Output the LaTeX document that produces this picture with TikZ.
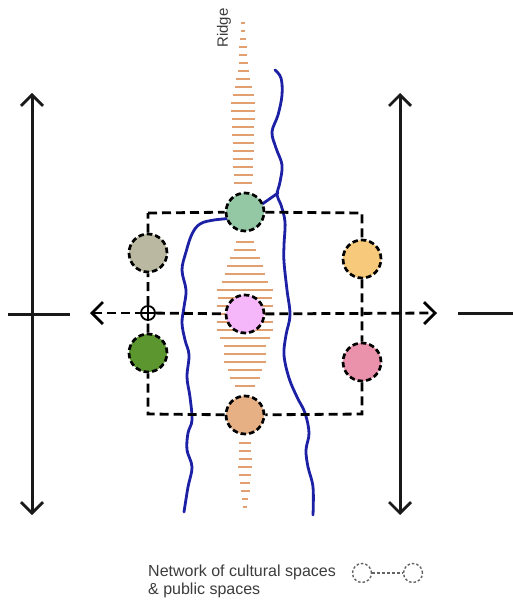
\documentclass[tikz,border=0pt]{standalone}
\usepackage{fontspec}
\setmainfont{Liberation Sans}
\usetikzlibrary{arrows.meta}
\definecolor{riverblue}{RGB}{28,32,165}
\definecolor{ridgeorange}{RGB}{226,160,112}
\definecolor{sageg}{RGB}{148,200,165}
\definecolor{stone}{RGB}{186,184,160}
\definecolor{lilac}{RGB}{245,182,250}
\definecolor{leaf}{RGB}{92,150,46}
\definecolor{sand}{RGB}{246,202,122}
\definecolor{rose}{RGB}{234,146,172}
\definecolor{peach}{RGB}{230,176,132}
\definecolor{legendgray}{RGB}{60,60,60}
\begin{document}
\begin{tikzpicture}[x=1pt,y=-1pt,
  axis/.style={line width=3pt, draw=black!90},
  barbtip/.tip={Straight Barb[length=11pt,width=22pt,line width=2.8pt]},
  netline/.style={line width=2.8pt, dash pattern=on 9pt off 5pt},
  space/.style={circle, minimum size=38pt, inner sep=0pt, draw=black,
    line width=2.7pt, dash pattern=on 5.5pt off 3pt},
  ridgeline/.style={draw=ridgeorange, line width=1.8pt},
  river/.style={draw=riverblue, line width=2.8pt, line cap=round, line join=round},
  legendtext/.style={font=\fontsize{16}{17.5}\selectfont, text=legendgray},
]
\useasboundingbox (0,0) rectangle (513,604);

% ridge hatching, upper stretch
\foreach \y/\w in {23/1.8,31/2.2,39/3,47/3.6,55/4,63/4.5,71/5.5,79/7,87/8.5,95/10.5,
  103/12,111/12,119/11.5,127/11,135/11,143/10.5,151/10.5,159/10,167/10,175/9.5,183/9}
  \draw[ridgeline] (243-\w,\y) -- (243+\w,\y);
% ridge hatching, middle stretch
\foreach \y/\w in {242/9,250/11,258/15,266/18,274/20,282/23,290/28,298/27,306/28,314/28,
  322/28,330/28,338/25,346/21,354/21,362/21,370/17,378/15,386/10}
  \draw[ridgeline] (245-\w,\y) -- (245+\w,\y);
% ridge hatching, lower stretch
\foreach \y/\w in {443/6,451/6,459/6.5,467/7,475/6,483/5,491/4.5,499/3,507/2}
  \draw[ridgeline] (245-\w,\y) -- (245+\w,\y);

\node[rotate=90, font=\fontsize{15}{15}\selectfont, text=legendgray] (ridgelabel) at (224,28) {Ridge};

% rivers
\draw[river] plot[smooth, tension=0.6] coordinates {
  (236,218) (214,220) (200,224) (192,234) (186,252) (182,270) (186,290) (184,307)
  (182,323) (185,340) (189,355) (187,377) (190,397) (192,420) (188,433) (187,450)
  (192,467) (188,487) (184,512)};
\draw[river] plot[smooth, tension=0.6] coordinates {
  (275,70) (281,78) (282,95) (278,115) (272,132) (276,148) (282,165) (280,182)
  (277,195) (281,205) (285,222) (284,245) (284,262) (287,290) (290,315) (286,335)
  (284,355) (289,378) (297,397) (305,413) (309,433) (306,450) (308,467) (313,487) (313,515)};
\draw[river] plot[smooth, tension=0.6] coordinates {(278,193) (268,200) (258,207)};

% outer solid axes
\coordinate (lTop) at (32,93);
\coordinate (lBot) at (32,515);
\coordinate (rTop) at (400,93);
\coordinate (rBot) at (400,515);
\coordinate (lw) at (8,314);
\coordinate (le) at (70,314);
\coordinate (rw) at (458,313);
\coordinate (re) at (513,313);
\draw[axis, barbtip-barbtip] (lTop) -- (lBot);
\draw[axis, barbtip-barbtip] (rTop) -- (rBot);
\draw[axis] (lw) -- (le);
\draw[axis] (rw) -- (re);

% network of spaces
\coordinate (cTL) at (148,213);
\coordinate (cTR) at (362,213);
\coordinate (cBR) at (362,414);
\coordinate (cBL) at (148,414);
\coordinate (hW) at (90,313);
\coordinate (hE) at (437,313);

\node[space, fill=sageg]  (top)    at (245,212) {};
\node[space, fill=stone]  (stone)  at (148,253) {};
\node[space, fill=lilac]  (centre) at (245,314) {};
\node[space, fill=leaf]   (leaf)   at (148,353) {};
\node[space, fill=sand]   (sand)   at (362,259) {};
\node[space, fill=rose]   (rose)   at (362,362) {};
\node[space, fill=peach]  (bottom) at (245,415) {};
\node[circle, draw=black, line width=1.8pt, minimum size=14pt, inner sep=0pt, fill=white] (junction) at (148,313) {};

\draw[netline] (cTL) -- (top) -- (cTR) -- (sand) -- (rose) -- (cBR) -- (bottom) -- (cBL) -- (leaf) -- (junction) -- (stone) -- (cTL);
\draw[netline, barbtip-] (hW) -- (junction);
\draw[netline] (junction) -- (centre);
\draw[netline, -barbtip] (centre) -- (hE);
\draw[line width=1.6pt] (junction.north) -- (junction.south);
\draw[line width=1.6pt] (junction.west) -- (junction.east);

% legend
\node[legendtext, align=left, anchor=north west, inner sep=0pt] (legend) at (148,565)
  {Network of cultural spaces\\\& public spaces};
\node[circle, draw=legendgray!80, line width=1.4pt, dash pattern=on 2.5pt off 2pt,
  minimum size=19pt, inner sep=0pt] (lgA) at (362,573) {};
\node[circle, draw=legendgray!80, line width=1.4pt, dash pattern=on 2.5pt off 2pt,
  minimum size=19pt, inner sep=0pt] (lgB) at (413,573) {};
\draw[draw=legendgray!80, line width=1.4pt, dash pattern=on 3pt off 2pt] (lgA) -- (lgB);
\end{tikzpicture}
\end{document}
